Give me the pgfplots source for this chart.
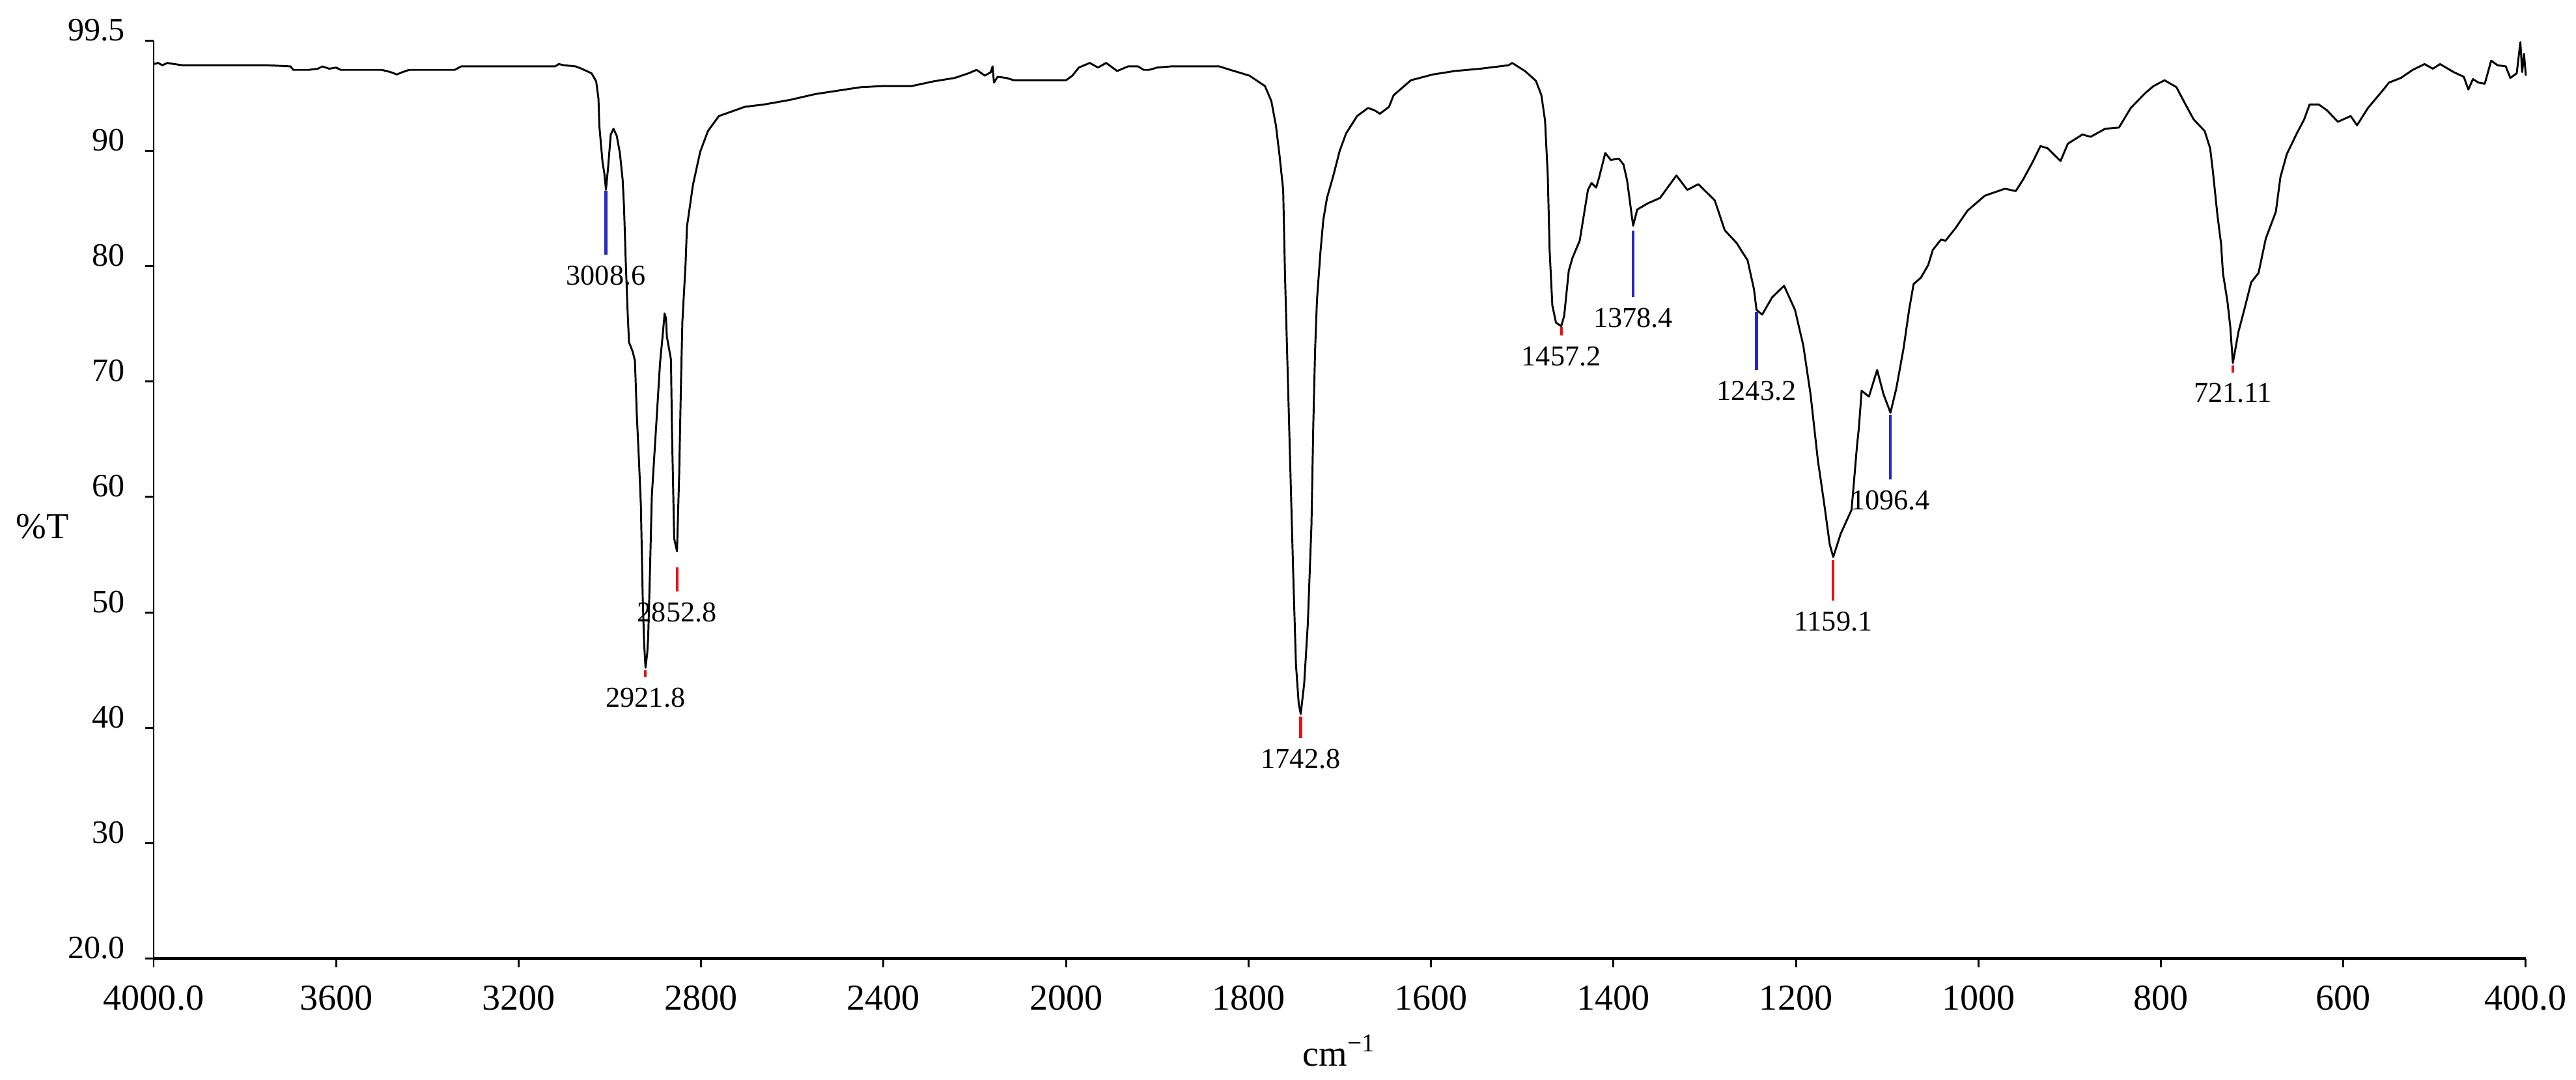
\documentclass[border=0pt]{standalone}
\usepackage{fontspec}
\setmainfont{Liberation Serif}
\usepackage{pgfplots}
\pgfplotsset{compat=1.18}
\usepackage{pgfplotstable}
\definecolor{pkblue}{RGB}{40,40,200}
\definecolor{pkred}{RGB}{230,20,20}
\tikzset{pklab/.style={anchor=north, inner sep=0pt, yshift=-0.095cm, font=\fontsize{7.5}{9}\selectfont}}

\pgfplotstableread{
wn T
4000 97.5
3990 97.6
3981 97.4
3970 97.6
3955 97.5
3936 97.4
3850 97.4
3750 97.4
3700 97.3
3694 97.0
3660 97.0
3640 97.1
3630 97.3
3615 97.1
3600 97.2
3590 97.0
3500 97.0
3480 96.8
3467 96.6
3455 96.8
3440 97.0
3340 97.0
3326 97.3
3200 97.3
3120 97.3
3112 97.5
3100 97.4
3075 97.3
3062 97.1
3040 96.7
3030 96.0
3025 94.5
3023 92.1
3016 89.0
3012 88.0
3008.6 86.6
3004 88.5
2998 91.4
2992 91.9
2985 91.3
2978 89.8
2972 87.5
2969 85.2
2965 80.2
2961 76.0
2958 73.4
2950 72.6
2945 71.8
2941 67.2
2936 63.0
2932 59.3
2928 51.4
2925 47.4
2921.8 45.2
2918 46.5
2916 47.8
2912 53.6
2908 60.1
2899 65.8
2890 71.6
2884 74.1
2880 75.9
2877 75.5
2875 73.9
2866 71.9
2864 66.1
2859 56.4
2852.8 55.3
2848 62.0
2844 70.0
2841 75.2
2834 80.2
2831 83.4
2818 87.0
2802 89.9
2785 91.7
2761 93.0
2704 93.8
2662 94.0
2605 94.4
2550 94.9
2500 95.2
2450 95.5
2400 95.6
2338 95.6
2291 96.0
2244 96.3
2214 96.7
2196 97.0
2178 96.5
2165 96.8
2161 97.3
2158 95.9
2150 96.4
2131 96.3
2114 96.1
2050 96.1
2000 96.1
1993 96.5
1986 97.2
1974 97.6
1965 97.2
1956 97.6
1944 96.9
1932 97.3
1921 97.3
1915 97.0
1909 97.0
1900 97.2
1885 97.3
1832 97.3
1820 97.0
1799 96.5
1782 95.6
1775 94.3
1770 92.2
1766 89.6
1762 86.6
1760 79.2
1757 70.6
1754 61.9
1751 53.3
1748 45.5
1745 42.1
1742.8 41.2
1739 43.8
1735 49.0
1731 57.6
1729 66.3
1727 72.75
1725 77.05
1721 81.4
1718 84.0
1714 85.9
1707 87.85
1700 90.0
1693 91.5
1681 93.0
1669 93.7
1662 93.5
1656 93.2
1646 93.8
1641 94.8
1622 96.1
1598 96.6
1574 96.9
1546 97.1
1515 97.4
1511 97.6
1497 96.9
1485 96.05
1479 94.8
1475 92.6
1472 87.85
1470 81.4
1467 76.6
1463 75.1
1457.2 74.8
1454 75.7
1449 79.6
1445 80.7
1437 82.2
1428 86.6
1424 87.2
1419 86.8
1416 87.6
1409 89.8
1403 89.2
1394 89.3
1389 88.8
1385 87.4
1380 84.4
1378.4 83.5
1374 84.9
1362 85.45
1349 85.9
1331 87.85
1319 86.6
1307 87.1
1289 85.7
1278 83.1
1265 82.0
1253 80.5
1246 78.0
1243.2 76.2
1237 75.8
1226 77.3
1213 78.3
1201 76.2
1192 73.15
1184 68.9
1176 63.2
1169 59.4
1163 55.9
1159.1 54.8
1151 56.8
1139 58.9
1133 64.5
1131 66.0
1128 69.2
1120 68.7
1111 71.0
1104 68.9
1096.4 67.3
1090 69.4
1082 72.9
1076 76.2
1071 78.45
1063 79.0
1055 80.1
1050 81.4
1041 82.3
1036 82.2
1025 83.3
1012 84.8
993 86.1
971 86.7
959 86.5
951 87.5
940 89.1
932 90.4
924 90.2
910 89.1
902 90.6
886 91.4
877 91.2
861 91.9
846 92.0
833 93.7
817 95.0
808 95.6
796 96.1
783 95.5
773 94.0
764 92.7
752 91.7
746 90.2
743 88.2
738 84.4
734 81.9
732 79.4
727 76.9
724 74.8
721.11 71.6
715 74.3
709 76.1
701 78.6
693 79.4
685 82.4
674 84.7
669 87.7
662 89.7
651 91.5
643 92.7
637 94.0
627 94.0
618 93.5
606 92.5
592 93.0
585 92.2
573 93.7
556 95.3
550 95.9
537 96.3
524 97.0
511 97.5
502 97.1
494 97.5
479 96.8
468 96.4
463 95.3
458 96.2
452 95.9
445 95.8
438 97.8
431 97.4
422 97.3
417 96.3
410 96.7
406 99.4
404 96.8
402 98.4
400 96.5
}\spec

\pgfplotstableread{
wn T
3008.6 86.5
3008.6 81.0
3000 nan
1378.4 83.1
1378.4 77.3
1300 nan
1243.2 76.0
1243.2 71.0
1200 nan
1096.4 67.1
1096.4 61.5
}\bluemarks

\pgfplotstableread{
wn T
2921.8 45.0
2921.8 44.4
2900 nan
2852.8 53.9
2852.8 51.8
2800 nan
1742.8 41.0
1742.8 39.1
1700 nan
1457.2 74.7
1457.2 74.0
1400 nan
1159.1 54.5
1159.1 51.0
1100 nan
721.11 71.4
721.11 70.8
}\redmarks

\newcommand{\wnu}{(\thisrow{wn}>2000 ? 8+(\thisrow{wn}-2000)/400 : (\thisrow{wn}-400)/200)}

\begin{document}
\begin{tikzpicture}
\begin{axis}[
  scale only axis, width=21.70cm, height=8.392cm,
  xmin=0, xmax=13, ymin=20, ymax=99.5,
  x dir=reverse,
  axis x line=bottom, axis y line=left,
  axis line style={-},
  x axis line style={line width=0.9pt},
  y axis line style={line width=0.5pt},
  xtick={0,1,...,13},
  xticklabels={400.0,600,800,1000,1200,1400,1600,1800,2000,2400,2800,3200,3600,4000.0},
  ytick={20,30,40,50,60,70,80,90,99.5},
  yticklabels={20.0,30,40,50,60,70,80,90,99.5},
  tick align=outside,
  major tick length=0.08cm,
  tick style={line width=0.5pt, black},
  xticklabel style={font=\fontsize{9.5}{11}\selectfont, anchor=north, inner sep=0pt, yshift=-0.158cm},
  yticklabel style={font=\fontsize{8.5}{10}\selectfont, anchor=base east, inner sep=0pt, xshift=-0.176cm},
  unbounded coords=jump,
  clip=false,
]
\addplot[black, line width=0.5pt, line join=round] table[x expr=\wnu, y=T] {\spec};
\addplot[pkblue, line width=0.7pt] table[x expr=\wnu, y=T] {\bluemarks};
\addplot[pkred, line width=0.7pt] table[x expr=\wnu, y=T] {\redmarks};

\node[pklab] at (axis cs:10.5215,81.0) {3008.6};
\node[pklab] at (axis cs:10.3045,44.4) {2921.8};
\node[pklab] at (axis cs:10.132,51.8) {2852.8};
\node[pklab] at (axis cs:6.714,39.1) {1742.8};
\node[pklab] at (axis cs:5.286,74.0) {1457.2};
\node[pklab] at (axis cs:4.892,77.3) {1378.4};
\node[pklab] at (axis cs:4.216,71.0) {1243.2};
\node[pklab] at (axis cs:3.7955,51.0) {1159.1};
\node[pklab] at (axis cs:3.482,61.5) {1096.4};
\node[pklab] at (axis cs:1.6055,70.8) {721.11};

\node[anchor=base, inner sep=0pt, font=\fontsize{9.5}{11}\selectfont] at (axis description cs:0.5,0) [yshift=-0.983cm] {cm\textsuperscript{−1}};
\node[anchor=base, inner sep=0pt, font=\fontsize{9.5}{11}\selectfont] at (axis description cs:0,0.4578) [xshift=-1.018cm] {\%T};

\coordinate (sw) at (axis description cs:0,0);
\coordinate (ne) at (axis description cs:1,1);
\end{axis}
\pgfresetboundingbox
\path[use as bounding box] ([xshift=-1.406cm,yshift=-1.108cm]sw) rectangle ([xshift=0.459cm,yshift=0.375cm]ne);
\end{tikzpicture}
\end{document}
